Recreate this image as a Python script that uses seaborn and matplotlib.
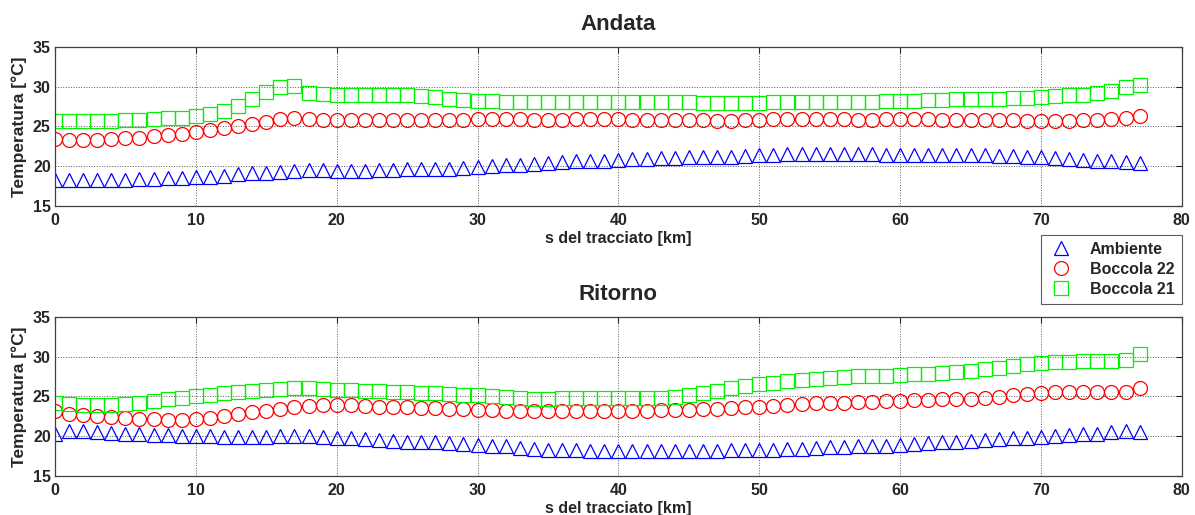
import matplotlib
matplotlib.use("Agg")
import matplotlib.pyplot as plt
import numpy as np
import pandas as pd
import seaborn as sns

# distance along the line, one reading per km
km = list(range(0, 78))

# Andata (outbound)
andata_ambiente = [
    18.3, 18.3, 18.3, 18.3, 18.3, 18.3, 18.4, 18.4, 18.5, 18.5,
    18.6, 18.7, 18.8, 19.0, 19.1, 19.2, 19.3, 19.4, 19.5, 19.5,
    19.4, 19.4, 19.4, 19.5, 19.5, 19.6, 19.6, 19.7, 19.7, 19.8,
    19.9, 20.0, 20.1, 20.2, 20.3, 20.4, 20.5, 20.6, 20.7, 20.7,
    20.8, 20.9, 20.9, 21.0, 21.0, 21.1, 21.1, 21.2, 21.2, 21.3,
    21.4, 21.4, 21.5, 21.5, 21.5, 21.5, 21.5, 21.5, 21.5, 21.4,
    21.4, 21.4, 21.4, 21.4, 21.4, 21.4, 21.4, 21.3, 21.3, 21.2,
    21.1, 21.0, 20.9, 20.8, 20.7, 20.6, 20.5, 20.4]
andata_b22 = [
    23.4, 23.3, 23.3, 23.3, 23.4, 23.5, 23.6, 23.8, 23.9, 24.1,
    24.3, 24.5, 24.8, 25.0, 25.3, 25.6, 25.9, 26.1, 25.9, 25.8,
    25.8, 25.8, 25.8, 25.8, 25.8, 25.8, 25.8, 25.8, 25.8, 25.8,
    25.9, 25.9, 25.9, 25.9, 25.8, 25.8, 25.8, 25.9, 25.9, 25.9,
    25.9, 25.8, 25.8, 25.8, 25.8, 25.8, 25.8, 25.7, 25.7, 25.8,
    25.8, 25.9, 25.9, 25.9, 25.9, 25.9, 25.9, 25.8, 25.8, 25.9,
    25.9, 25.9, 25.9, 25.8, 25.8, 25.8, 25.8, 25.8, 25.8, 25.7,
    25.7, 25.7, 25.7, 25.8, 25.8, 25.9, 26.1, 26.3]
andata_b21 = [
    25.7, 25.7, 25.7, 25.7, 25.7, 25.8, 25.8, 25.9, 26.0, 26.1,
    26.3, 26.6, 27.0, 27.6, 28.4, 29.3, 29.9, 30.1, 29.2, 29.1,
    29.0, 29.0, 29.0, 29.0, 28.9, 28.9, 28.8, 28.7, 28.5, 28.3,
    28.2, 28.2, 28.1, 28.1, 28.1, 28.1, 28.1, 28.1, 28.1, 28.1,
    28.1, 28.1, 28.1, 28.1, 28.1, 28.1, 28.0, 28.0, 27.9, 28.0,
    28.0, 28.1, 28.1, 28.1, 28.1, 28.1, 28.1, 28.1, 28.1, 28.2,
    28.2, 28.2, 28.3, 28.3, 28.4, 28.4, 28.5, 28.5, 28.6, 28.6,
    28.7, 28.8, 28.9, 29.0, 29.2, 29.5, 29.9, 30.2]

# Ritorno (return)
ritorno_ambiente = [
    20.3, 20.7, 20.6, 20.5, 20.4, 20.3, 20.2, 20.1, 20.1, 20.0,
    20.0, 20.0, 19.9, 19.9, 19.9, 19.9, 20.0, 20.0, 20.0, 19.9,
    19.8, 19.7, 19.6, 19.5, 19.4, 19.3, 19.2, 19.2, 19.1, 19.0,
    18.9, 18.8, 18.7, 18.5, 18.4, 18.3, 18.2, 18.2, 18.1, 18.1,
    18.1, 18.1, 18.1, 18.1, 18.1, 18.1, 18.1, 18.1, 18.2, 18.2,
    18.3, 18.3, 18.4, 18.4, 18.5, 18.6, 18.6, 18.7, 18.7, 18.8,
    18.9, 19.0, 19.1, 19.2, 19.3, 19.4, 19.5, 19.6, 19.7, 19.8,
    19.9, 20.0, 20.1, 20.2, 20.3, 20.5, 20.6, 20.5]
ritorno_b22 = [
    23.1, 22.8, 22.6, 22.5, 22.4, 22.3, 22.2, 22.1, 22.0, 22.0,
    22.1, 22.3, 22.5, 22.8, 23.0, 23.2, 23.4, 23.6, 23.8, 23.9,
    23.9, 23.9, 23.8, 23.7, 23.6, 23.6, 23.5, 23.5, 23.4, 23.4,
    23.3, 23.3, 23.2, 23.2, 23.1, 23.1, 23.1, 23.1, 23.2, 23.2,
    23.2, 23.2, 23.2, 23.3, 23.3, 23.3, 23.4, 23.4, 23.5, 23.6,
    23.7, 23.8, 23.9, 24.0, 24.1, 24.2, 24.2, 24.3, 24.3, 24.4,
    24.4, 24.5, 24.5, 24.6, 24.6, 24.7, 24.8, 24.9, 25.1, 25.3,
    25.4, 25.5, 25.5, 25.6, 25.6, 25.6, 25.6, 26.0]
ritorno_b21 = [
    24.2, 24.0, 23.9, 23.9, 23.9, 24.0, 24.2, 24.4, 24.6, 24.8,
    25.0, 25.2, 25.4, 25.6, 25.7, 25.8, 25.9, 26.0, 26.0, 25.9,
    25.8, 25.8, 25.7, 25.7, 25.6, 25.5, 25.4, 25.4, 25.3, 25.2,
    25.1, 25.0, 24.9, 24.8, 24.7, 24.7, 24.8, 24.8, 24.8, 24.8,
    24.8, 24.8, 24.8, 24.8, 24.9, 25.1, 25.4, 25.7, 26.0, 26.3,
    26.5, 26.7, 26.9, 27.1, 27.2, 27.3, 27.4, 27.5, 27.6, 27.6,
    27.7, 27.8, 27.8, 27.9, 28.0, 28.2, 28.4, 28.6, 28.8, 29.0,
    29.2, 29.3, 29.3, 29.4, 29.4, 29.4, 29.5, 30.3]

series_names = ["Ambiente", "Boccola 22", "Boccola 21"]
colors = {"Ambiente": (0, 0, 1), "Boccola 22": (1, 0, 0), "Boccola 21": (0, 0.95, 0)}
markers = {"Ambiente": "^", "Boccola 22": "o", "Boccola 21": "s"}
sizes = {"Ambiente": 10, "Boccola 22": 10, "Boccola 21": 10}

sns.set_style("white")
plt.rcParams["font.family"] = ["Liberation Sans", "DejaVu Sans"]
plt.rcParams["font.weight"] = "bold"


def draw_panel(ax, title, values):
    for name, y in zip(series_names, values):
        df = pd.DataFrame({"km": km, "temp": y})
        sns.lineplot(data=df, x="km", y="temp", ax=ax, legend=False,
                     label=name, color=colors[name], marker=markers[name],
                     ls="none", ms=sizes[name], mfc="none",
                     mec=colors[name], mew=0.9)
    ax.set_xlim(0, 80)
    ax.set_ylim(15, 35)
    ax.set_xticks(np.arange(0, 81, 10))
    ax.set_yticks(np.arange(15, 36, 5))
    ax.grid(True, ls=":", color="0.35", lw=0.7)
    ax.tick_params(direction="in", top=True, right=True, length=4,
                   labelsize=11.5)
    ax.tick_params(axis="x", pad=5)
    ax.tick_params(axis="y", pad=3)
    for lab in ax.get_xticklabels() + ax.get_yticklabels():
        lab.set_fontweight("bold")
    for sp in ax.spines.values():
        sp.set_color("0.25")
        sp.set_linewidth(0.9)
    ax.set_title(title, fontsize=16, fontweight="bold", pad=12)
    ax.set_xlabel("s del tracciato [km]", fontsize=11.5, fontweight="bold",
                  labelpad=2)
    ax.set_ylabel("Temperatura [°C]", fontsize=12.5, fontweight="bold",
                  labelpad=4)


fig = plt.figure(figsize=(11.95, 5.15), dpi=100)
ax_top = fig.add_axes([0.046, 0.600, 0.943, 0.309])
ax_bot = fig.add_axes([0.046, 0.076, 0.943, 0.309])

draw_panel(ax_top, "Andata", [andata_ambiente, andata_b22, andata_b21])
draw_panel(ax_bot, "Ritorno", [ritorno_ambiente, ritorno_b22, ritorno_b21])

handles, labels = ax_top.get_legend_handles_labels()
leg = fig.legend(handles, labels, loc="upper right",
                 bbox_to_anchor=(0.989, 0.544), borderaxespad=0,
                 frameon=True, fancybox=False,
                 edgecolor="0.2", prop={"weight": "bold", "size": 11.5},
                 handlelength=1.6, handletextpad=1.0, borderpad=0.45,
                 labelspacing=0.3, markerscale=1.0)
leg.get_frame().set_linewidth(0.8)

fig.savefig("out.png", dpi=100)
